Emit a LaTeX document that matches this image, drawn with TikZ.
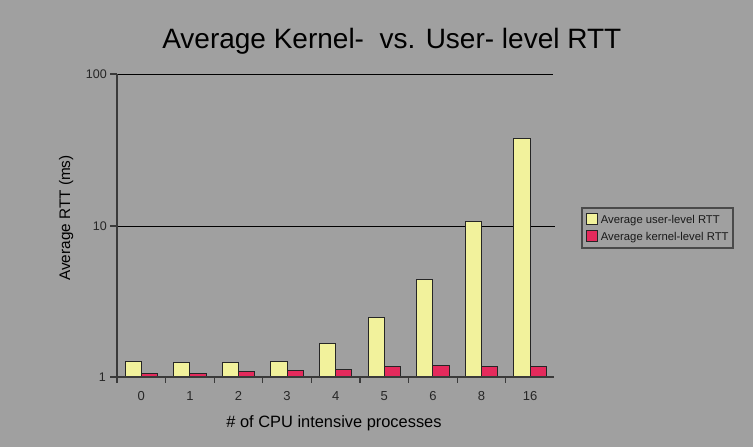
\documentclass[tikz,border=0pt]{standalone}
\usepackage{fontspec}
\setmainfont{Liberation Sans}
\definecolor{bg}{HTML}{A0A0A0}
\definecolor{useryel}{HTML}{F2F29C}
\definecolor{kernred}{HTML}{E42A5C}
\definecolor{axisgray}{HTML}{3A3A3A}
\definecolor{legborder}{HTML}{4A4A4A}
\begin{document}
\begin{tikzpicture}[x=1pt,y=-1pt,
  barbox/.style={draw=black!85, line width=0.9pt},
  gridline/.style={draw=black, line width=1pt},
  axisline/.style={draw=axisgray, line width=1.4pt},
  ticklbl/.style={font=\fontsize{12.5}{14}\selectfont, text=black!85, inner sep=0pt},
  catlbl/.style={font=\fontsize{13}{15}\selectfont, text=black!85, inner sep=0pt},
  leglbl/.style={font=\fontsize{11.3}{13}\selectfont, text=black!90, inner sep=0pt, anchor=base west},
  swatch/.style={draw=black!85, line width=0.8pt, minimum width=11pt, minimum height=11pt, inner sep=0pt}]
\useasboundingbox[fill=bg] (0,0) rectangle (753,447);
% title
\node[font=\fontsize{28}{32}\selectfont, anchor=base, inner sep=0pt] (title) at (391.8,48.3) {Average Kernel-\ \ vs. User- level RTT};
% gridlines
\draw[gridline] (117,74) -- (553,74);
\draw[gridline] (110,226) -- (555,226);
% bars
\foreach \i/\lab/\u/\k in {0/0/1.27/1.05, 1/1/1.25/1.06, 2/2/1.25/1.08, 3/3/1.27/1.10, 4/4/1.67/1.13, 5/5/2.49/1.17, 6/6/4.43/1.19, 7/8/10.6/1.18, 8/16/37.7/1.18}{
  \pgfmathsetmacro\xa{117+\i*48.6}
  \pgfmathsetmacro\yu{377-151.5*log10(\u)}
  \pgfmathsetmacro\yk{377-151.5*log10(\k)}
  \draw[barbox, fill=useryel] (\xa+8.1,377) rectangle (\xa+24.3,\yu);
  \draw[barbox, fill=kernred] (\xa+24.3,377) rectangle (\xa+40.5,\yk);
  \node[catlbl] (cat\i) at (\xa+24.3,396) {\lab};
}
% category ticks
\foreach \i in {1,...,8}{
  \draw[axisline, line width=1.1pt] (117+\i*48.6,377) -- (117+\i*48.6,383);
}
% axes
\draw[axisline] (117,74) -- (117,383);
\draw[axisline] (110,377) -- (554,377);
\draw[axisline] (110,74) -- (117,74);
\draw[axisline] (110,226) -- (117,226);
% y tick labels
\node[ticklbl, anchor=east] (y100) at (107,74) {100};
\node[ticklbl, anchor=east] (y10) at (107,226) {10};
\node[ticklbl, anchor=east] (y1) at (106,377) {1};
% axis titles
\node[font=\fontsize{15.3}{17}\selectfont, anchor=base, rotate=90, inner sep=0pt] (ylabel) at (70,218) {Average RTT (ms)};
\node[font=\fontsize{16.4}{18}\selectfont, anchor=base, inner sep=0pt] (xlabel) at (334,427.3) {\# of CPU intensive processes};
% legend
\draw[draw=legborder, line width=1.8pt] (581.7,208) rectangle (733,248);
\node[swatch, fill=useryel] (swu) at (591.5,218.5) {};
\node[swatch, fill=kernred] (swk) at (591.5,235.8) {};
\node[leglbl] (legu) at (600.7,223) {Average user-level RTT};
\node[leglbl] (legk) at (600.7,240.5) {Average kernel-level RTT};
\end{tikzpicture}
\end{document}
